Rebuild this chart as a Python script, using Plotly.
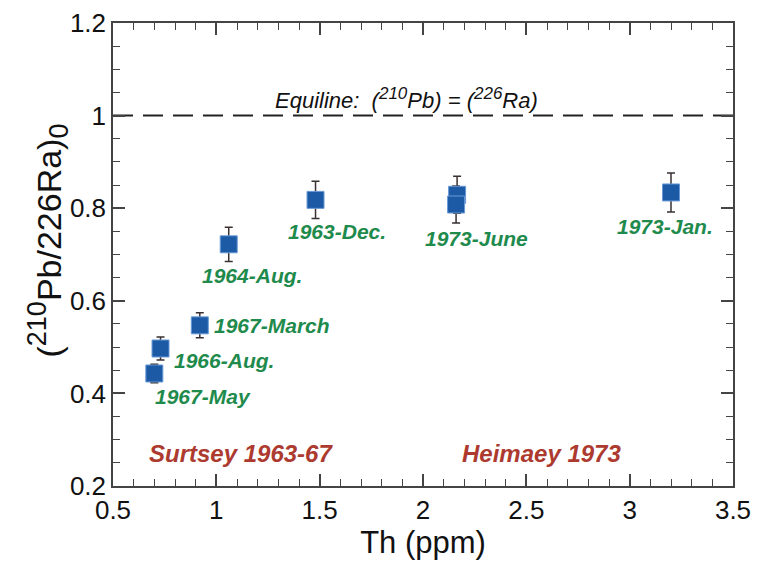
import plotly.graph_objects as go

# Data
labels = ["1967-May", "1966-Aug.", "1967-March", "1964-Aug.", "1963-Dec.", "1973-June", "1973-June", "1973-Jan."]
th_ppm = [0.70, 0.73, 0.92, 1.06, 1.48, 2.165, 2.16, 3.20]
ratio = [0.443, 0.497, 0.547, 0.722, 0.818, 0.829, 0.808, 0.834]
ratio_err = [0.020, 0.025, 0.027, 0.037, 0.040, 0.040, 0.040, 0.042]

label_x = [0.935, 1.037, 1.269, 1.172, 1.584, 2.261, 3.17]
label_y = [0.393, 0.472, 0.547, 0.654, 0.750, 0.735, 0.761]
label_text = ["1967-May", "1966-Aug.", "1967-March", "1964-Aug.", "1963-Dec.", "1973-June", "1973-Jan."]

group_text = ["Surtsey 1963-67", "Heimaey 1973"]
group_x = [1.119, 2.575]
group_y = [0.271, 0.271]

equiline_value = 1.0

FONT = "Liberation Sans, Arial, sans-serif"
GREEN = "#1e8a4c"
RED = "#ad3a2f"

fig = go.Figure()

fig.add_trace(go.Scatter(
    x=th_ppm, y=ratio, mode="markers",
    marker=dict(symbol="square", size=17, color="#1c5aa6",
                line=dict(color="#6a9ad6", width=1)),
    error_y=dict(type="data", array=ratio_err, visible=True,
                 color="#3a3030", thickness=1.5, width=4),
    showlegend=False,
))

fig.add_shape(type="line", xref="paper", yref="y", x0=0, x1=1,
              y0=equiline_value, y1=equiline_value,
              line=dict(color="#222", width=2, dash="20px,10px"), layer="below")

for t, x, y in zip(label_text, label_x, label_y):
    fig.add_annotation(x=x, y=y, xref="x", yref="y", text=f"<b><i>{t}</i></b>",
                       showarrow=False, font=dict(family=FONT, size=21, color=GREEN))

for t, x, y in zip(group_text, group_x, group_y):
    fig.add_annotation(x=x, y=y, xref="x", yref="y", text=f"<b><i>{t}</i></b>",
                       showarrow=False, font=dict(family=FONT, size=24, color=RED))

fig.add_annotation(x=1.922, y=1.037, xref="x", yref="y",
                   text="<i>Equiline:  (<sup><span style='font-size:17px'>210</span></sup>Pb) = "
                        "(<sup><span style='font-size:17px'>226</span></sup>Ra)</i>",
                   showarrow=False, font=dict(family=FONT, size=22, color="#111"))

# Y axis title (as a rotated annotation so that it can sit where the reference has it)
fig.add_annotation(
    x=-0.105, y=0.53, xref="paper", yref="paper", textangle=-90,
    xanchor="center", yanchor="middle",
    text="(<sup><span style='font-size:27px'>210</span></sup>"
         "Pb/226Ra)<sub><span style='font-size:27px'>0</span></sub>",
    showarrow=False, font=dict(family=FONT, size=34, color="#111"),
)

axis_common = dict(
    showline=True, linecolor="#444", linewidth=1.5, mirror="ticks",
    ticks="inside", ticklen=12, tickwidth=1.5, tickcolor="#444",
    showgrid=False, zeroline=False, ticklabeloverflow="allow",
    tickfont=dict(family=FONT, size=26, color="#111"),
)

fig.update_xaxes(
    range=[0.5, 3.5], dtick=0.5, tick0=0.5,
    minor=dict(dtick=0.1, ticks="inside", ticklen=7, tickwidth=1.2, tickcolor="#444"),
    title=dict(text="Th (ppm)", font=dict(family=FONT, size=31, color="#111"), standoff=0),
    **axis_common,
)
fig.update_yaxes(
    range=[0.2, 1.2], dtick=0.2, tick0=0.2,
    minor=dict(dtick=0.05, ticks="inside", ticklen=7, tickwidth=1.2, tickcolor="#444"),
    **axis_common,
)

fig.update_layout(
    width=754, height=557,
    margin=dict(l=105, r=29, t=15, b=79, autoexpand=False),
    plot_bgcolor="white", paper_bgcolor="white",
)

fig.write_html("out.html")
